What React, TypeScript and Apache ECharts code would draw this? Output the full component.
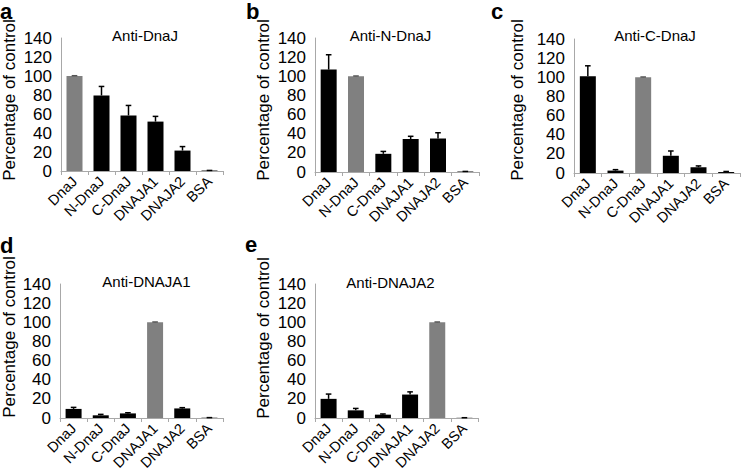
import React, { useEffect, useRef } from "react";
import * as echarts from "echarts";

const categories = ["DnaJ", "N-DnaJ", "C-DnaJ", "DNAJA1", "DNAJA2", "BSA"];
const yTicks = [0, 20, 40, 60, 80, 100, 120, 140];

const panelLetters = ["a", "b", "c", "d", "e"];
const panelTitles = ["Anti-DnaJ", "Anti-N-DnaJ", "Anti-C-DnaJ", "Anti-DNAJA1", "Anti-DNAJA2"];
const controlIndex = [0, 1, 2, 3, 4];

const valuesA = [100, 79.5, 58.5, 52, 21.5, 0.5];
const errorsA = [0.3, 9.5, 10.5, 5.5, 4.2, 0.1];
const valuesB = [107, 100, 19, 34.5, 35, 0.5];
const errorsB = [15.5, 0.3, 2.5, 2.8, 6, 0.1];
const valuesC = [101, 2.5, 100, 18, 6, 1];
const errorsC = [11, 1, 0.3, 5, 1.4, 0.6];
const valuesD = [9.5, 2.8, 4.8, 100, 10, 0.3];
const errorsD = [1.6, 1, 0.7, 0.3, 0.8, 0.1];
const valuesE = [20, 8, 3.5, 24.5, 100, 0.2];
const errorsE = [5, 2, 0.7, 2.8, 0.3, 0.1];

const allValues = [valuesA, valuesB, valuesC, valuesD, valuesE];
const allErrors = [errorsA, errorsB, errorsC, errorsD, errorsE];

const FONT = "'Liberation Sans', Arial, sans-serif";
const BLACK = "#000000";
const GREY = "#808080";
const AXIS = "#a8a8a8";

// layout (pixels)
const grids = [
  { left: 61, top: 38, width: 162, height: 133 },
  { left: 315, top: 38, width: 164, height: 134 },
  { left: 574, top: 39, width: 166, height: 134 },
  { left: 60, top: 284, width: 163, height: 134 },
  { left: 315, top: 284, width: 163, height: 134 },
];
const titlePos = [
  [145, 35.5],
  [390.5, 35.5],
  [655, 35.5],
  [146.5, 281.5],
  [390.5, 282],
];
const letterPos = [
  [0, 11.5],
  [246, 11.5],
  [491, 11.5],
  [0, 245],
  [245, 244.5],
];
const namePos = [
  [9.8, 100],
  [263.3, 100],
  [517.5, 100],
  [9.8, 337],
  [263, 338],
];

export default function App() {
  const ref = useRef<HTMLDivElement>(null);

  useEffect(() => {
    if (!ref.current) return;
    const chart = echarts.init(ref.current, null, { renderer: "svg" });

    const gridOpt = grids.map((g) => ({ ...g, containLabel: false, outerBoundsMode: "none" }));
    const xAxes = grids.map((_, i) => ({
      type: "category",
      gridIndex: i,
      data: categories,
      boundaryGap: true,
      axisLine: { show: true, lineStyle: { color: AXIS, width: 1 } },
      axisTick: { show: true, alignWithLabel: false, length: 4, lineStyle: { color: AXIS } },
      axisLabel: {
        rotate: 45,
        interval: 0,
        margin: 8,
        color: BLACK,
        fontSize: 14.5,
        fontFamily: FONT,
      },
      splitLine: { show: false },
    }));
    const yAxes = grids.map((_, i) => ({
      type: "value",
      gridIndex: i,
      min: yTicks[0],
      max: yTicks[yTicks.length - 1],
      interval: yTicks[1] - yTicks[0],
      axisLine: { show: true, lineStyle: { color: AXIS, width: 1 } },
      axisTick: { show: false },
      splitLine: { show: false },
      axisLabel: { color: BLACK, fontSize: 17, fontFamily: FONT, margin: 9 },
    }));

    const series: any[] = [];
    allValues.forEach((vals, p) => {
      series.push({
        type: "bar",
        xAxisIndex: p,
        yAxisIndex: p,
        barWidth: 16,
        data: vals.map((v, i) => ({
          value: v,
          itemStyle: { color: i === controlIndex[p] ? GREY : BLACK },
        })),
      });
      series.push({
        type: "custom",
        xAxisIndex: p,
        yAxisIndex: p,
        data: vals.map((v, i) => [i, v, allErrors[p][i], i === controlIndex[p] ? 1 : 0]),
        renderItem: (params: any, api: any) => {
          const idx = api.value(0);
          const v = api.value(1);
          const e = api.value(2);
          const isCtrl = api.value(3) === 1;
          const base = api.coord([idx, v]);
          const top = api.coord([idx, v + e]);
          const color = isCtrl ? "#555555" : BLACK;
          const w = 2.8;
          return {
            type: "group",
            children: [
              {
                type: "line",
                shape: { x1: top[0], y1: base[1], x2: top[0], y2: top[1] },
                style: { stroke: color, lineWidth: 1.5 },
              },
              {
                type: "line",
                shape: { x1: top[0] - w, y1: top[1], x2: top[0] + w, y2: top[1] },
                style: { stroke: color, lineWidth: 1.5 },
              },
            ],
          };
        },
        z: 5,
      });
    });

    const graphics: any[] = [];
    panelTitles.forEach((t, i) => {
      graphics.push({
        type: "text",
        x: titlePos[i][0],
        y: titlePos[i][1],
        style: {
          text: t,
          fontSize: 15,
          fontFamily: FONT,
          fill: BLACK,
          align: "center",
          verticalAlign: "middle",
        },
      });
      graphics.push({
        type: "text",
        x: letterPos[i][0],
        y: letterPos[i][1],
        style: {
          text: panelLetters[i],
          fontSize: 22,
          fontWeight: "bold",
          fontFamily: FONT,
          fill: BLACK,
          align: "left",
          verticalAlign: "middle",
        },
      });
      graphics.push({
        type: "text",
        x: namePos[i][0],
        y: namePos[i][1],
        rotation: Math.PI / 2,
        style: {
          text: "Percentage of control",
          fontSize: 17,
          fontFamily: FONT,
          fill: BLACK,
          align: "center",
          verticalAlign: "middle",
        },
      });
    });

    chart.setOption({
      animation: false,
      backgroundColor: "#ffffff",
      grid: gridOpt,
      xAxis: xAxes,
      yAxis: yAxes,
      series,
      graphic: graphics,
    });

    return () => chart.dispose();
  }, []);

  return (
    <div
      ref={ref}
      style={{ position: "fixed", left: 0, top: 0, width: 742, height: 473, background: "#fff" }}
    />
  );
}
